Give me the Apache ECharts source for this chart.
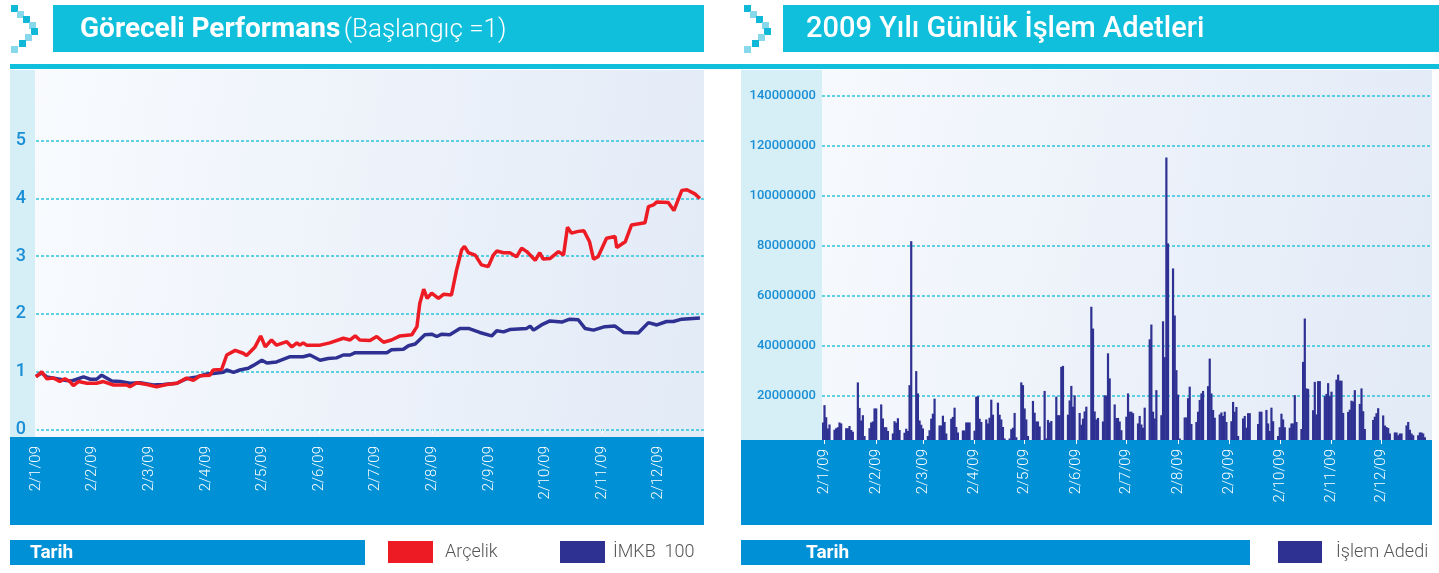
<!DOCTYPE html>
<html>
<head>
<meta charset="utf-8">
<script src="https://cdn.jsdelivr.net/npm/echarts@6/dist/echarts.min.js"></script>
<style>
html, body { margin: 0; padding: 0; background: #fff; }
#main { width: 1439px; height: 573px; }
</style>
</head>
<body>
<div id="main"></div>
<script>
// x ekseni etiketleri (ay başları)
var ayEtiketleri = ['2/1/09', '2/2/09', '2/3/09', '2/4/09', '2/5/09', '2/6/09',
    '2/7/09', '2/8/09', '2/9/09', '2/10/09', '2/11/09', '2/12/09'];

// göreceli performans: [ay konumu, değer]
var arcelik = [[0, 0.91], [0.10, 1.00], [0.19, 0.88], [0.31, 0.89], [0.42, 0.83], [0.51, 0.88],
    [0.60, 0.83], [0.66, 0.76], [0.75, 0.83], [0.90, 0.80], [1.07, 0.80], [1.19, 0.83],
    [1.37, 0.77], [1.60, 0.77], [1.66, 0.74], [1.78, 0.81], [1.96, 0.78], [2.13, 0.74],
    [2.31, 0.78], [2.49, 0.80], [2.66, 0.89], [2.78, 0.85], [2.90, 0.93], [3.07, 0.94],
    [3.13, 1.03], [3.28, 1.04], [3.37, 1.29], [3.52, 1.37], [3.66, 1.32], [3.72, 1.28],
    [3.87, 1.43], [3.97, 1.62], [4.05, 1.43], [4.16, 1.55], [4.25, 1.46], [4.43, 1.52],
    [4.52, 1.43], [4.61, 1.50], [4.66, 1.46], [4.72, 1.50], [4.78, 1.46], [5.02, 1.46],
    [5.19, 1.50], [5.43, 1.58], [5.55, 1.55], [5.64, 1.62], [5.72, 1.55], [5.90, 1.54],
    [6.02, 1.61], [6.14, 1.51], [6.28, 1.55], [6.43, 1.62], [6.64, 1.64], [6.73, 1.78],
    [6.78, 2.18], [6.85, 2.43], [6.91, 2.27], [6.99, 2.36], [7.11, 2.27], [7.20, 2.34],
    [7.34, 2.33], [7.43, 2.76], [7.52, 3.11], [7.57, 3.17], [7.64, 3.06], [7.76, 3.02],
    [7.87, 2.85], [7.99, 2.82], [8.08, 3.02], [8.14, 3.09], [8.26, 3.06], [8.37, 3.06],
    [8.49, 2.99], [8.58, 3.14], [8.67, 3.08], [8.82, 2.93], [8.90, 3.06], [8.96, 2.95],
    [9.08, 2.96], [9.23, 3.08], [9.32, 3.02], [9.39, 3.50], [9.46, 3.40], [9.58, 3.43],
    [9.68, 3.44], [9.78, 3.25], [9.85, 2.95], [9.93, 2.99], [10.08, 3.31], [10.23, 3.34],
    [10.26, 3.15], [10.41, 3.25], [10.52, 3.54], [10.76, 3.58], [10.82, 3.86], [10.91, 3.89],
    [10.97, 3.94], [11.17, 3.93], [11.27, 3.79], [11.41, 4.14], [11.50, 4.15], [11.64, 4.08],
    [11.73, 4.00]];

var imkb100 = [[0, 0.92], [0.10, 0.98], [0.19, 0.91], [0.37, 0.88], [0.54, 0.85], [0.63, 0.84],
    [0.84, 0.91], [0.96, 0.87], [1.07, 0.87], [1.16, 0.94], [1.34, 0.84], [1.49, 0.83],
    [1.66, 0.80], [1.84, 0.81], [2.07, 0.77], [2.25, 0.78], [2.49, 0.80], [2.66, 0.88],
    [2.84, 0.91], [3.02, 0.96], [3.13, 0.97], [3.31, 0.99], [3.37, 1.03], [3.49, 0.99],
    [3.60, 1.03], [3.75, 1.06], [3.84, 1.11], [3.99, 1.20], [4.08, 1.15], [4.25, 1.17],
    [4.49, 1.26], [4.72, 1.26], [4.84, 1.29], [5.02, 1.20], [5.16, 1.23], [5.31, 1.24],
    [5.43, 1.29], [5.55, 1.29], [5.64, 1.33], [5.78, 1.33], [6.20, 1.33], [6.28, 1.38],
    [6.49, 1.39], [6.58, 1.45], [6.70, 1.48], [6.87, 1.64], [6.99, 1.65], [7.08, 1.61],
    [7.17, 1.65], [7.31, 1.64], [7.49, 1.75], [7.64, 1.75], [7.84, 1.68], [8.05, 1.62],
    [8.14, 1.71], [8.26, 1.69], [8.37, 1.73], [8.67, 1.75], [8.73, 1.79], [8.79, 1.72],
    [8.93, 1.81], [9.08, 1.88], [9.29, 1.86], [9.43, 1.91], [9.58, 1.90], [9.70, 1.75],
    [9.85, 1.72], [10.05, 1.78], [10.23, 1.79], [10.38, 1.68], [10.64, 1.67], [10.82, 1.85],
    [10.97, 1.81], [11.14, 1.87], [11.26, 1.87], [11.41, 1.91], [11.73, 1.93]];

// günlük işlem adedi (milyon), her ay için gün gün; 0 = işlem yok
var islemOcak = [9.4, 16.3, 11.5, 7.0, 8.6, 0, 0, 6.5, 7.1, 7.5, 9.4, 9.0, 0, 0, 7.1, 7.1, 8.0, 6.4, 5.7, 0, 0,
    25.4, 15.2, 10.2, 12.3, 4.0, 0, 0, 7.1, 9.4, 9.8];
var islemSubat = [15.0, 15.0, 0, 0, 16.6, 11.0, 7.5, 7.5, 6.0, 0, 0, 5.0, 9.9, 9.3, 11.1, 6.4, 0, 0,
    5.3, 6.9, 6.0, 24.3, 81.8, 0, 0, 29.9, 21.0, 10.2];
var islemMart = [8.5, 7.0, 0, 0, 4.0, 6.3, 10.9, 12.9, 18.9, 0, 0, 8.2, 8.2, 12.1, 9.6, 5.0, 0, 0,
    10.9, 11.6, 15.3, 7.6, 5.4, 0, 0, 6.2, 6.2, 9.4, 9.4, 9.4, 0];
var islemNisan = [0, 6.1, 19.7, 19.9, 10.9, 9.6, 0, 0, 10.6, 9.0, 11.3, 18.5, 12.5, 0, 0,
    17.3, 12.5, 10.6, 7.6, 3.0, 0, 0, 3.0, 6.7, 7.3, 13.2, 3.5, 0, 0, 25.4];
var islemMayis = [24.3, 15.0, 10.6, 4.0, 0, 0, 18.0, 13.3, 9.8, 9.8, 7.8, 0, 0, 22.0, 3.0, 10.4, 9.4, 10.0, 0, 0,
    19.7, 12.3, 12.3, 31.6, 32.0, 0, 0, 12.5, 18.2, 24.0, 15.7];
var islemHaziran = [20.2, 0, 0, 13.2, 8.5, 10.9, 13.8, 15.7, 0, 0, 55.6, 46.9, 13.8, 10.6, 11.2, 0, 0,
    9.8, 20.2, 20.2, 37.0, 27.0, 0, 0, 16.6, 11.2, 11.2, 9.8, 6.3, 0];
var islemTemmuz = [0, 11.7, 21.0, 13.7, 13.7, 13.1, 0, 0, 9.0, 12.0, 8.6, 7.3, 15.3, 0, 0,
    42.6, 48.5, 13.7, 11.0, 22.3, 0, 0, 12.3, 49.8, 35.5, 115.2, 80.9, 0, 0, 70.9, 52.1];
var islemAgustos = [30.3, 20.5, 3.0, 0, 0, 11.4, 11.4, 19.1, 23.7, 8.8, 0, 0, 9.6, 13.7, 18.4, 21.0, 22.0, 0, 0,
    23.9, 34.9, 21.0, 14.4, 11.3, 0, 0, 12.6, 13.4, 12.0, 13.7, 9.6];
var islemEylul = [0, 0, 9.9, 17.6, 13.7, 15.6, 4.0, 0, 0, 11.0, 12.0, 7.3, 13.1, 13.1, 0, 0,
    0, 0, 8.8, 13.7, 13.7, 0, 0, 14.4, 9.0, 6.0, 15.3, 9.9, 0, 0];
var islemEkim = [4.0, 7.5, 12.9, 10.6, 7.5, 0, 0, 7.3, 9.0, 9.0, 20.3, 9.6, 0, 0, 6.8, 33.6, 50.9, 23.0, 22.8, 0, 0,
    14.3, 25.6, 12.6, 25.9, 25.9, 0, 0, 19.9, 20.8, 25.1];
var islemKasim = [19.9, 21.7, 0, 0, 26.5, 28.5, 26.1, 26.1, 13.2, 0, 0, 13.6, 14.5, 18.1, 17.8, 22.3, 0, 0,
    16.8, 23.0, 13.9, 6.8, 0, 0, 0, 0, 10.4, 11.7, 13.1, 15.1];
var islemAralik = [0, 0, 12.2, 8.2, 7.6, 7.2, 5.0, 0, 0, 5.4, 5.4, 4.3, 5.0, 5.0, 0, 0,
    8.2, 9.6, 6.5, 5.0, 4.3, 0, 0, 4.3, 5.4, 5.4, 5.0, 3.5, 0, 0, 0];

var gunler = [];
var islemAdedi = [];
[islemOcak, islemSubat, islemMart, islemNisan, islemMayis, islemHaziran, islemTemmuz,
    islemAgustos, islemEylul, islemEkim, islemKasim, islemAralik].forEach(function (ay, m) {
    ay.forEach(function (v, i) {
        gunler.push((i + 1) + '/' + (m + 1) + '/09');
        islemAdedi.push(v);
    });
});

var CYAN = '#10bfdb';
var MAVI = '#0090d6';
var KIRMIZI = '#ed1c24';
var LACIVERT = '#2e3192';

function ayBasi (index, value) {
    return value.split('/')[0] === '2';
}

// başlık yanındaki piksel ok
function ok (dx) {
    var kareler = [[11, 5, 1], [17, 11, 0], [23, 16, 1], [29, 22, 0], [31, 28, 1],
        [25, 34, 0], [19, 40, 1], [11, 46, 0]];
    return kareler.map(function (k) {
        return {
            type: 'rect', shape: { x: k[0] + dx, y: k[1], width: 7, height: 7 },
            style: { fill: k[2] ? '#0fb8d6' : '#86d8ea' }
        };
    });
}

function yazi (x, y, text, font, fill) {
    return {
        type: 'text', x: x, y: y, z: 20,
        style: { text: text, font: font, fill: fill, textVerticalAlign: 'middle', verticalAlign: 'middle' }
    };
}

var grafik = [
    // arka planlar
    { type: 'rect', z: -10, shape: { x: 10, y: 70, width: 694, height: 367 },
        style: { fill: new echarts.graphic.LinearGradient(0, 0, 1, 0.3, [{ offset: 0, color: '#f9fbfe' }, { offset: 1, color: '#e3ebf7' }]) } },
    { type: 'rect', z: -9, shape: { x: 10, y: 70, width: 25, height: 367 }, style: { fill: '#d6eef5' } },
    { type: 'rect', z: -10, shape: { x: 741, y: 70, width: 691, height: 370 },
        style: { fill: new echarts.graphic.LinearGradient(0, 0, 1, 0.3, [{ offset: 0, color: '#f9fbfe' }, { offset: 1, color: '#e3ebf7' }]) } },
    { type: 'rect', z: -9, shape: { x: 741, y: 70, width: 81, height: 370 }, style: { fill: '#d6eef5' } },
    // tarih bantları
    { type: 'rect', z: 5, shape: { x: 10, y: 437, width: 694, height: 88 }, style: { fill: MAVI } },
    { type: 'rect', z: 5, shape: { x: 741, y: 440, width: 691, height: 85 }, style: { fill: MAVI } },
    // başlıklar
    { type: 'rect', shape: { x: 53, y: 5, width: 651, height: 47 }, style: { fill: CYAN } },
    { type: 'rect', shape: { x: 783, y: 5, width: 656, height: 47 }, style: { fill: CYAN } },
    { type: 'rect', shape: { x: 10, y: 64, width: 1429, height: 5 }, style: { fill: CYAN } },
    {
        type: 'text', x: 80, y: 30, z: 20,
        style: {
            text: '{b|Göreceli Performans} {l|(Başlangıç =1)}',
            textVerticalAlign: 'middle', verticalAlign: 'middle',
            rich: {
                b: { fontFamily: 'Roboto', fontSize: 28, fontWeight: 'bold', fill: '#fff', color: '#fff' },
                l: { fontFamily: 'Roboto', fontSize: 26, fontWeight: 300, fill: '#fff', color: '#fff' }
            }
        }
    },
    yazi(806, 30, '2009 Yılı Günlük İşlem Adetleri', '500 29px Roboto', '#fff'),
    // alt satır
    { type: 'rect', shape: { x: 10, y: 540, width: 355, height: 25 }, style: { fill: MAVI } },
    { type: 'rect', shape: { x: 741, y: 540, width: 509, height: 25 }, style: { fill: MAVI } },
    yazi(30, 553, 'Tarih', 'bold 19px Roboto', '#fff'),
    yazi(806, 553, 'Tarih', 'bold 19px Roboto', '#fff'),
    { type: 'rect', shape: { x: 388, y: 541, width: 45, height: 22 }, style: { fill: KIRMIZI } },
    { type: 'rect', shape: { x: 560, y: 541, width: 45, height: 22 }, style: { fill: LACIVERT } },
    { type: 'rect', shape: { x: 1278, y: 541, width: 44, height: 22 }, style: { fill: LACIVERT } },
    yazi(445, 552, 'Arçelik', '300 18px Roboto', '#555'),
    yazi(613, 552, 'İMKB  100', '300 18px Roboto', '#555'),
    yazi(1336, 552, 'İşlem Adedi', '300 18px Roboto', '#555')
].concat(ok(0), ok(733));

var myChart = echarts.init(document.getElementById('main'));

option = {
    animation: false,
    textStyle: { fontFamily: 'Roboto' },
    graphic: { elements: grafik },
    grid: [
        { left: 36, right: 735.1, top: 140.7, bottom: 143.5 },
        { left: 822, right: 8.3, top: 95.4, bottom: 127 }
    ],
    xAxis: [
        {
            gridIndex: 0, type: 'value', min: 0, max: 11.8, interval: 1, offset: 7.5, z: 6,
            axisLine: { show: false },
            splitLine: { show: false },
            axisTick: { show: true, length: 4, customValues: [0, 1, 2, 3, 4, 5, 6, 7, 8, 9, 10, 11], lineStyle: { color: '#fff' } },
            axisLabel: {
                customValues: [0, 1, 2, 3, 4, 5, 6, 7, 8, 9, 10, 11],
                rotate: 90, margin: 9, color: '#fff', fontSize: 15, fontWeight: 300,
                formatter: function (v) { return ayEtiketleri[Math.round(v)] || ''; }
            }
        },
        {
            gridIndex: 1, type: 'category', data: gunler, offset: -6, z: 6,
            axisLine: { show: false },
            axisTick: { show: true, length: 4, alignWithLabel: true, interval: ayBasi, lineStyle: { color: '#fff' } },
            axisLabel: { interval: ayBasi, rotate: 90, margin: 9, color: '#fff', fontSize: 15, fontWeight: 300 }
        }
    ],
    yAxis: [
        {
            gridIndex: 0, type: 'value', min: 0, max: 5, interval: 1,
            axisLine: { show: false }, axisTick: { show: false },
            axisLabel: { color: '#1a8fd6', fontSize: 18, margin: 10, fontWeight: 500 },
            splitLine: { lineStyle: { color: '#2cc3dc', type: [3, 2], width: 1.5 } }
        },
        {
            gridIndex: 1, type: 'value', min: 0, max: 140, interval: 20,
            axisLine: { show: false }, axisTick: { show: false },
            axisLabel: {
                color: '#1a8fd6', fontSize: 13, margin: 6, fontWeight: 500, showMinLabel: false,
                formatter: function (v) { return v === 0 ? '' : String(v * 1000000); }
            },
            splitLine: { lineStyle: { color: '#2cc3dc', type: [3, 2], width: 1.5 } }
        }
    ],
    series: [
        {
            name: 'İMKB 100', type: 'line', xAxisIndex: 0, yAxisIndex: 0, data: imkb100,
            showSymbol: false, lineStyle: { color: LACIVERT, width: 3.5 }, z: 3
        },
        {
            name: 'Arçelik', type: 'line', xAxisIndex: 0, yAxisIndex: 0, data: arcelik,
            showSymbol: false, lineStyle: { color: KIRMIZI, width: 3.5 }, z: 4
        },
        {
            name: 'İşlem Adedi', type: 'bar', xAxisIndex: 1, yAxisIndex: 1, data: islemAdedi,
            barWidth: 2.2, itemStyle: { color: LACIVERT }
        }
    ]
};

myChart.setOption(option);
</script>
</body>
</html>
